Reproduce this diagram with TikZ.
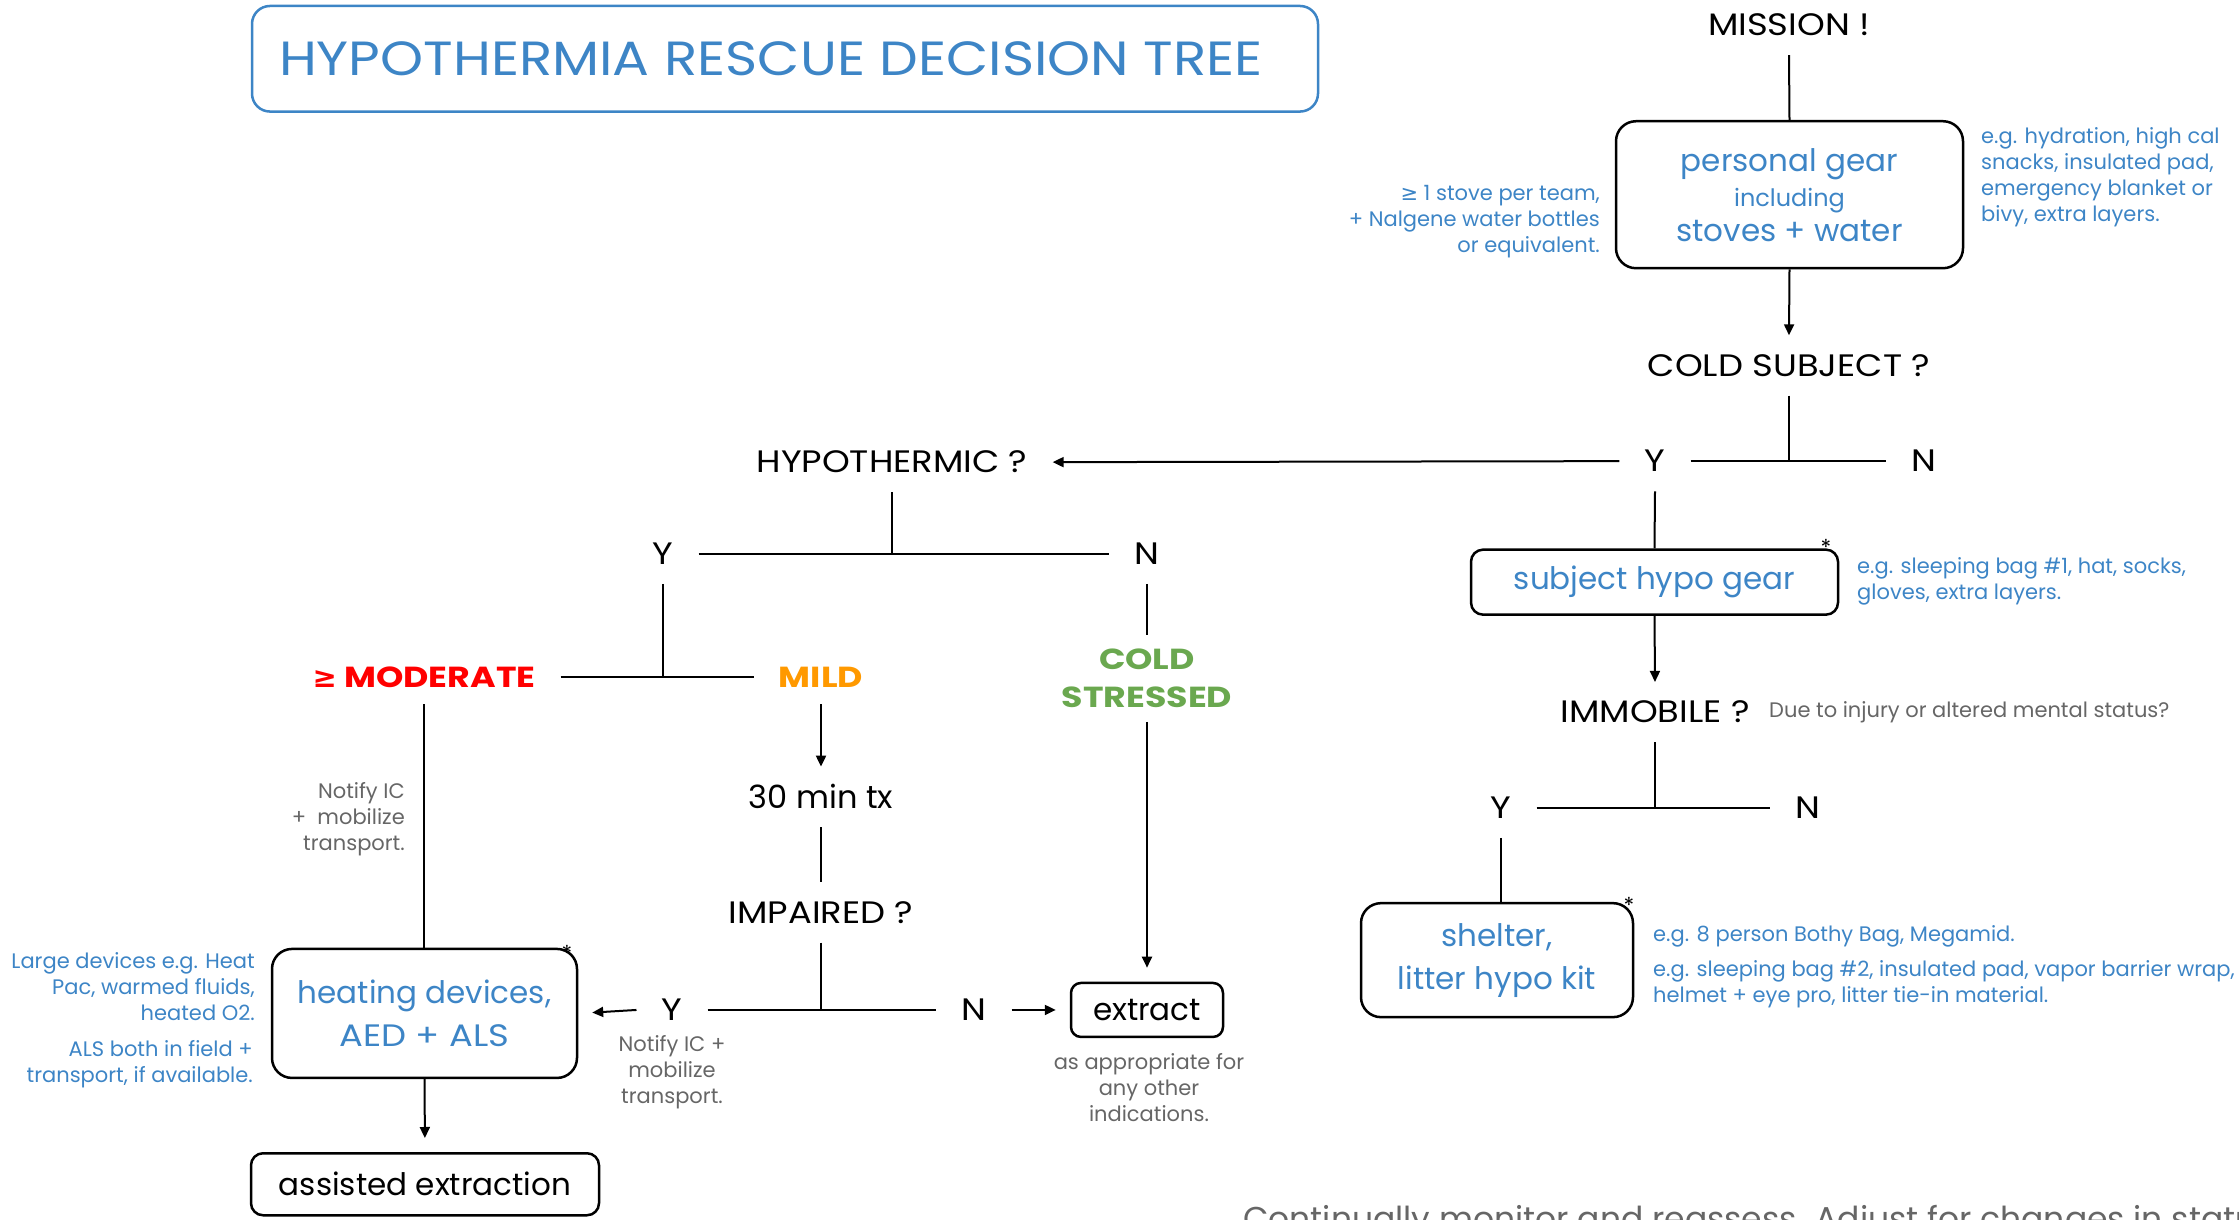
\documentclass[tikz,border=0pt]{standalone}
\usepackage{fontspec}
\setmainfont{Poppins}
\newfontfamily\symf{DejaVu Sans}
\newfontfamily\capsf{Poppins}[FakeStretch=1.14]
\newfontfamily\capsb{Poppins}[FakeStretch=1.2]
\usetikzlibrary{arrows.meta}
\definecolor{tblue}{HTML}{3D85C6}
\definecolor{tgray}{HTML}{666666}
\definecolor{tred}{HTML}{FF0000}
\definecolor{torange}{HTML}{FF9900}
\definecolor{tgreen}{HTML}{6AA84F}
\tikzset{
  lbl/.style={inner ysep=0pt, inner xsep=25pt, minimum height=60pt, font=\fontsize{31}{37}\selectfont\capsf},
  yn/.style={lbl},
  cls/.style={inner xsep=25pt, inner ysep=0pt, minimum height=54pt, font=\fontsize{29}{38}\selectfont\capsb\bfseries, align=center},
  note/.style={inner sep=0pt, font=\fontsize{21}{26}\selectfont, text=tblue},
  gnote/.style={note, text=tgray},
  gbox/.style={draw, line width=2.5pt, rounded corners=20pt, text=tblue, inner sep=0pt, align=center, font=\fontsize{31}{43}\selectfont},
  kbox/.style={draw, line width=2.5pt, rounded corners=12pt, inner sep=0pt, font=\fontsize{31}{37}\selectfont},
  conn/.style={line width=2pt},
  arr/.style={conn, -{Triangle[length=11pt,width=10pt]}},
  arrb/.style={arr, shorten >=14pt},
  starl/.style={inner sep=0pt, font=\fontsize{22}{22}\selectfont},
}
\begin{document}
\begin{tikzpicture}[x=1pt,y=-0.996pt]
\useasboundingbox (0,0) rectangle (2239,1224);
\clip (0,0) rectangle (2239,1224);

% title
\draw[tblue, line width=2.5pt, rounded corners=18pt] (252,6) rectangle (1318,112);
\node[inner sep=0pt, text=tblue, font=\fontsize{48}{58}\selectfont\capsf] (title) at (771,59) {HYPOTHERMIA RESCUE DECISION TREE};

% right branch
\node[lbl] (mission) at (1789,25) {MISSION !};
\node[gbox, minimum width=347pt, minimum height=147pt, font=\fontsize{31}{35}\selectfont] (pg) at (1789.5,195.5)
  {personal gear\\{\fontsize{24}{35}\selectfont including}\\stoves + water};
\node[note, align=right, anchor=east] (pgl) at (1600,223) {{\symf ≥} 1 stove per team,\\+ Nalgene water bottles\\or equivalent.};
\node[note, align=left, anchor=west] (pgr) at (1981,178) {e.g. hydration, high cal\\snacks, insulated pad,\\emergency blanket or\\bivy, extra layers.};

\node[lbl] (cs) at (1789,367) {COLD SUBJECT ?};
\node[yn] (ycs) at (1655,463) {Y};
\node[yn] (ncs) at (1924,463) {N};

\node[gbox, rounded corners=12pt, minimum width=367pt, minimum height=65pt] (subj) at (1654.5,584.5) {subject hypo gear};
\node[starl] (st1) at (1826,550) {*};
\node[note, align=left, anchor=west] (subjn) at (1857,584) {e.g. sleeping bag \#1, hat, socks,\\gloves, extra layers.};

\node[lbl] (im) at (1655,715) {IMMOBILE ?};
\node[gnote, anchor=west] (imn) at (1769,715) {Due to injury or altered mental status?};
\node[yn] (yim) at (1501,811) {Y};
\node[yn] (nim) at (1808,811) {N};

\node[gbox, minimum width=272pt, minimum height=114pt] (shel) at (1497,964) {shelter,\\litter hypo kit};
\node[starl] (st2) at (1629,909) {*};
\node[note, anchor=west] (sheln1) at (1653,940) {e.g. 8 person Bothy Bag, Megamid.};
\node[note, align=left, anchor=west] (sheln2) at (1653,988) {e.g. sleeping bag \#2, insulated pad, vapor barrier wrap,\\helmet + eye pro, litter tie-in material.};

% left branch
\node[lbl] (hypo) at (892,464) {HYPOTHERMIC ?};
\node[yn] (yh) at (663,556) {Y};
\node[yn] (nh) at (1147,556) {N};

\node[cls, text=tred] (mod) at (424,680) {{\symf\bfseries ≥} MODERATE};
\node[cls, text=torange] (mild) at (821,680) {MILD};
\node[cls, text=tgreen, inner ysep=14pt, minimum height=0pt] (cstr) at (1147,681) {COLD\\STRESSED};

\node[gnote, align=right, anchor=east] (modn) at (405,822) {Notify IC\\+~ mobilize\\transport.};

\node[lbl, font=\fontsize{32}{37}\selectfont] (tx) at (821,800) {30 min tx};
\node[lbl] (imp) at (821,916) {IMPAIRED ?};
\node[yn] (yi) at (672,1014) {Y};
\node[yn] (ni) at (974,1014) {N};
\node[gnote, align=center] (yin) at (672,1077) {Notify IC +\\mobilize\\transport.};

\node[kbox, rounded corners=10pt, minimum width=152pt, minimum height=54pt] (ext) at (1147,1014) {extract};
\node[gnote, align=center] (extn) at (1149,1092) {as appropriate for\\any other\\indications.};

\node[gbox, minimum width=305pt, minimum height=129pt] (heat) at (424.5,1017.5) {heating devices,\\{\capsf AED + ALS}};
\node[starl] (st3) at (567,957) {*};
\node[note, align=right, anchor=east] (heatn1) at (255,991) {Large devices e.g. Heat\\Pac, warmed fluids,\\heated O2.};
\node[note, align=right, anchor=east] (heatn2) at (253,1068) {ALS both in field +\\transport, if available.};

\node[kbox, minimum width=348pt, minimum height=62pt] (ae) at (425,1189) {assisted extraction};

\node[inner sep=0pt, anchor=base west, text=tgray, font=\fontsize{33}{38}\selectfont] (foot) at (1243,1235) {Continually monitor and reassess. Adjust for changes in status.};

% connectors
\draw[conn] (mission.south) -- (pg.north);
\draw[arr] (pg.south) -- (cs.north);
\draw[conn] (cs.south) -- (cs.south |- ycs.east);
\draw[conn] (ycs.east) -- (ncs.west);
\draw[arr] (ycs.west) -- (hypo.east);
\draw[conn] (ycs.south) -- (subj.north);
\draw[arr] (subj.south) -- (im.north);
\draw[conn] (im.south) -- (im.south |- yim.east);
\draw[conn] (yim.east) -- (nim.west);
\draw[conn] (yim.south) -- (yim.south |- shel.north);

\draw[conn] (hypo.south) -- (hypo.south |- yh.east);
\draw[conn] (yh.east) -- (nh.west);
\draw[conn] (yh.south) -- (yh.south |- mod.east);
\draw[conn] (mod.east) -- (mild.west);
\draw[conn] (nh.south) -- (cstr.north);
\draw[arrb] (cstr.south) -- (ext.north);
\draw[conn] (mod.south) -- (mod.south |- heat.north);
\draw[arr] (mild.south) -- (tx.north);
\draw[conn] (tx.south) -- (imp.north);
\draw[conn] (imp.south) -- (imp.south |- yi.east);
\draw[conn] (yi.east) -- (ni.west);
\draw[arrb] (yi.west) -- (heat.east);
\draw[arrb] (ni.east) -- (ext.west);
\draw[arrb] (heat.south) -- (ae.north);
\end{tikzpicture}
\end{document}
